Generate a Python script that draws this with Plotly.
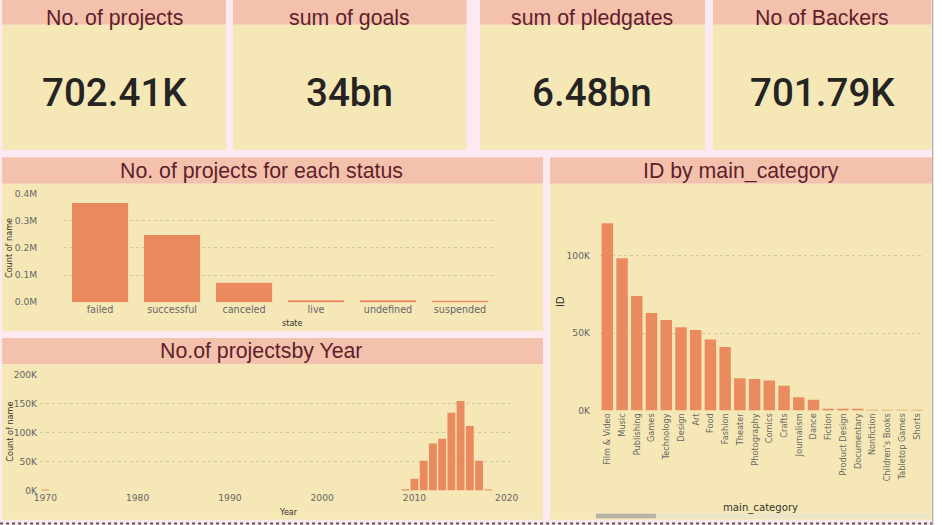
import plotly.graph_objects as go

# ---------------- data ----------------
kpi_titles = ["No. of projects", "sum of goals", "sum of pledgates", "No of Backers"]
kpi_values = ["702.41K", "34bn", "6.48bn", "701.79K"]

status_labels = ["failed", "successful", "canceled", "live", "undefined", "suspended"]
status_counts = [366000, 248000, 72000, 6500, 7000, 3000]
status_tickvals = [0, 100000, 200000, 300000, 400000]
status_ticktext = ["0.0M", "0.1M", "0.2M", "0.3M", "0.4M"]

years = [1970, 2009, 2010, 2011, 2012, 2013, 2014, 2015, 2016, 2017, 2018]
year_counts = [400, 2200, 20000, 51000, 81000, 89000, 134000, 154000, 111000, 51000, 1000]
year_tickvals = [0, 50000, 100000, 150000, 200000]
year_ticktext = ["0K", "50K", "100K", "150K", "200K"]
year_xticks = [1970, 1980, 1990, 2000, 2010, 2020]

categories = ["Film & Video", "Music", "Publishing", "Games", "Technology", "Design", "Art",
              "Food", "Fashion", "Theater", "Photography", "Comics", "Crafts", "Journalism",
              "Dance", "Fiction", "Product Design", "Documentary", "Nonfiction",
              "Children's Books", "Tabletop Games", "Shorts"]
category_ids = [121000, 98300, 73900, 63000, 58500, 53800, 52000, 45800, 41000, 20900,
                20300, 19400, 16000, 8600, 6900, 600, 500, 500, 400, 400, 400, 300]
cat_tickvals = [0, 50000, 100000]
cat_ticktext = ["0K", "50K", "100K"]

# ---------------- styling ----------------
W, H = 942, 525
# layout is written in reference-picture pixels and mapped to paper coords
SX, SY, OFF = 954 / 942, 537 / 525, 6
FS = 1.015
BG = "#FCEAF2"
HEAD = "#F4C2AC"
BODY = "#F5E8B6"
BAR = "#EB8A5F"
TITLE_C = "#5E1F2B"
TICK_C = "#666666"
GRID_C = "rgba(160,160,160,0.45)"
TITLE_FONT = "Liberation Sans"
VAL_FONT = "Roboto"


def px(x):
    return (x * SX - OFF) / W


def py(y):
    return 1 - (y * SY - OFF) / H


shapes = []
annotations = []


def rect(x0, y0, x1, y1, color, layer="below"):
    shapes.append(dict(type="rect", xref="paper", yref="paper",
                       x0=px(x0), x1=px(x1), y0=py(y1), y1=py(y0),
                       fillcolor=color, line=dict(width=0), layer=layer))


def text(x, y, s, size, color, font=TITLE_FONT, angle=0, xanchor="center", weight=None):
    f = dict(family=font, size=size * FS, color=color)
    if weight:
        f["weight"] = weight
    annotations.append(dict(xref="paper", yref="paper", x=px(x), y=py(y), text=s,
                            showarrow=False, xanchor=xanchor, yanchor="middle",
                            textangle=angle, borderpad=0, font=f))


# KPI cards
cards = [(2, 226), (233, 466.5), (480, 705), (713, 931.5)]
for (x0, x1), t, v in zip(cards, kpi_titles, kpi_values):
    rect(x0, -10, x1, 25.5, HEAD)
    rect(x0, 25.5, x1, 150.5, BODY)
    text((x0 + x1) / 2, 18.5, t, 21, TITLE_C)
    text((x0 + x1) / 2, 93, v, 38, "#252423", font=VAL_FONT, weight=500)

# Panels
rect(2, 157.5, 543, 184, HEAD)
rect(2, 184, 543, 331, BODY)
text(261, 171, "No. of projects for each status", 21, TITLE_C)

rect(2, 337.7, 543, 364, HEAD)
rect(2, 364, 543, 519, BODY)
text(261, 351, "No.of projectsby Year", 21, TITLE_C)

rect(550, 157.5, 932, 184, HEAD)
rect(550, 184, 932, 519, BODY)
text(741, 171, "ID by main_category", 21, TITLE_C)

# right white strip + border line
rect(933, -10, 960, 540, "#FFFFFF")
shapes.append(dict(type="line", xref="paper", yref="paper", x0=px(932.8), x1=px(932.8),
                   y0=py(540), y1=py(-10), line=dict(color="#A8A8A8", width=1.2)))
# bottom dotted line
shapes.append(dict(type="line", xref="paper", yref="paper", x0=px(0), x1=px(932),
                   y0=py(522.7), y1=py(522.7), line=dict(color="#555555", width=2, dash="dot")))
# scrollbar in category chart
rect(596, 513, 928, 517.5, "#ECE4CC", layer="above")
rect(596, 513, 656, 517.5, "#B8B2A4", layer="above")

# axis titles
text(9, 248, "Count of name", 8, "#333333", font="DejaVu Sans", angle=-90)
text(292, 323, "state", 8, "#333333", font="DejaVu Sans")
text(9, 431, "Count of name", 8, "#333333", font="DejaVu Sans", angle=-90)
text(288, 511, "Year", 8, "#333333", font="DejaVu Sans")
text(560, 301, "ID", 10, "#333333", font="DejaVu Sans", angle=-90)
text(761, 507, "main_category", 10, "#333333", font="DejaVu Sans")

fig = go.Figure()
fig.add_trace(go.Bar(x=status_labels, y=status_counts, marker=dict(color=BAR, line=dict(width=0)),
                     xaxis="x", yaxis="y"))
fig.add_trace(go.Bar(x=years, y=year_counts, width=0.85, marker=dict(color=BAR, line=dict(width=0)),
                     xaxis="x2", yaxis="y2"))
fig.add_trace(go.Bar(x=categories, y=category_ids, marker=dict(color=BAR, line=dict(width=0)),
                     xaxis="x3", yaxis="y3"))

tickfont = dict(family="DejaVu Sans", size=9 * FS, color=TICK_C)

fig.update_layout(
    autosize=True, margin=dict(l=0, r=0, t=0, b=0),
    paper_bgcolor=BG, plot_bgcolor="rgba(0,0,0,0)",
    showlegend=False, bargap=0.22,
    shapes=shapes, annotations=annotations,
    xaxis=dict(domain=[px(64), px(496)], anchor="y", type="category", showgrid=False,
               tickfont=dict(family="DejaVu Sans", size=9.5 * FS, color=TICK_C)),
    yaxis=dict(domain=[py(302), py(194)], anchor="x", range=[0, 400000],
               tickvals=status_tickvals, ticktext=status_ticktext, tickfont=tickfont,
               showgrid=True, gridcolor=GRID_C, griddash="dot", gridwidth=1,
               zeroline=False, ticklabelstandoff=26),
    xaxis2=dict(domain=[px(40), px(512)], anchor="y2", range=[1969.43, 2020.57],
                tickvals=year_xticks, tickfont=tickfont, showgrid=False, zeroline=False),
    yaxis2=dict(domain=[py(489.7), py(374)], anchor="x2", range=[0, 200000],
                tickvals=year_tickvals, ticktext=year_ticktext, tickfont=tickfont,
                showgrid=True, gridcolor=GRID_C, griddash="dot", gridwidth=1,
                zeroline=False, ticklabelstandoff=2),
    xaxis3=dict(domain=[px(600), px(924)], anchor="y3", type="category", showgrid=False,
                tickangle=-90,
                tickfont=dict(family="DejaVu Sans Condensed, DejaVu Sans", size=9 * FS, color=TICK_C)),
    yaxis3=dict(domain=[py(410), py(200)], anchor="x3", range=[0, 136100],
                tickvals=cat_tickvals, ticktext=cat_ticktext, tickfont=tickfont,
                showgrid=True, gridcolor=GRID_C, griddash="dot", gridwidth=1,
                zeroline=False, ticklabelstandoff=9),
)
# pin the 942x525 figure div to the top-left corner of the page
fig.write_html("out.html", config={"displayModeBar": False},
               default_width="942px; position:fixed; left:0px; top:0px",
               default_height="525px")
